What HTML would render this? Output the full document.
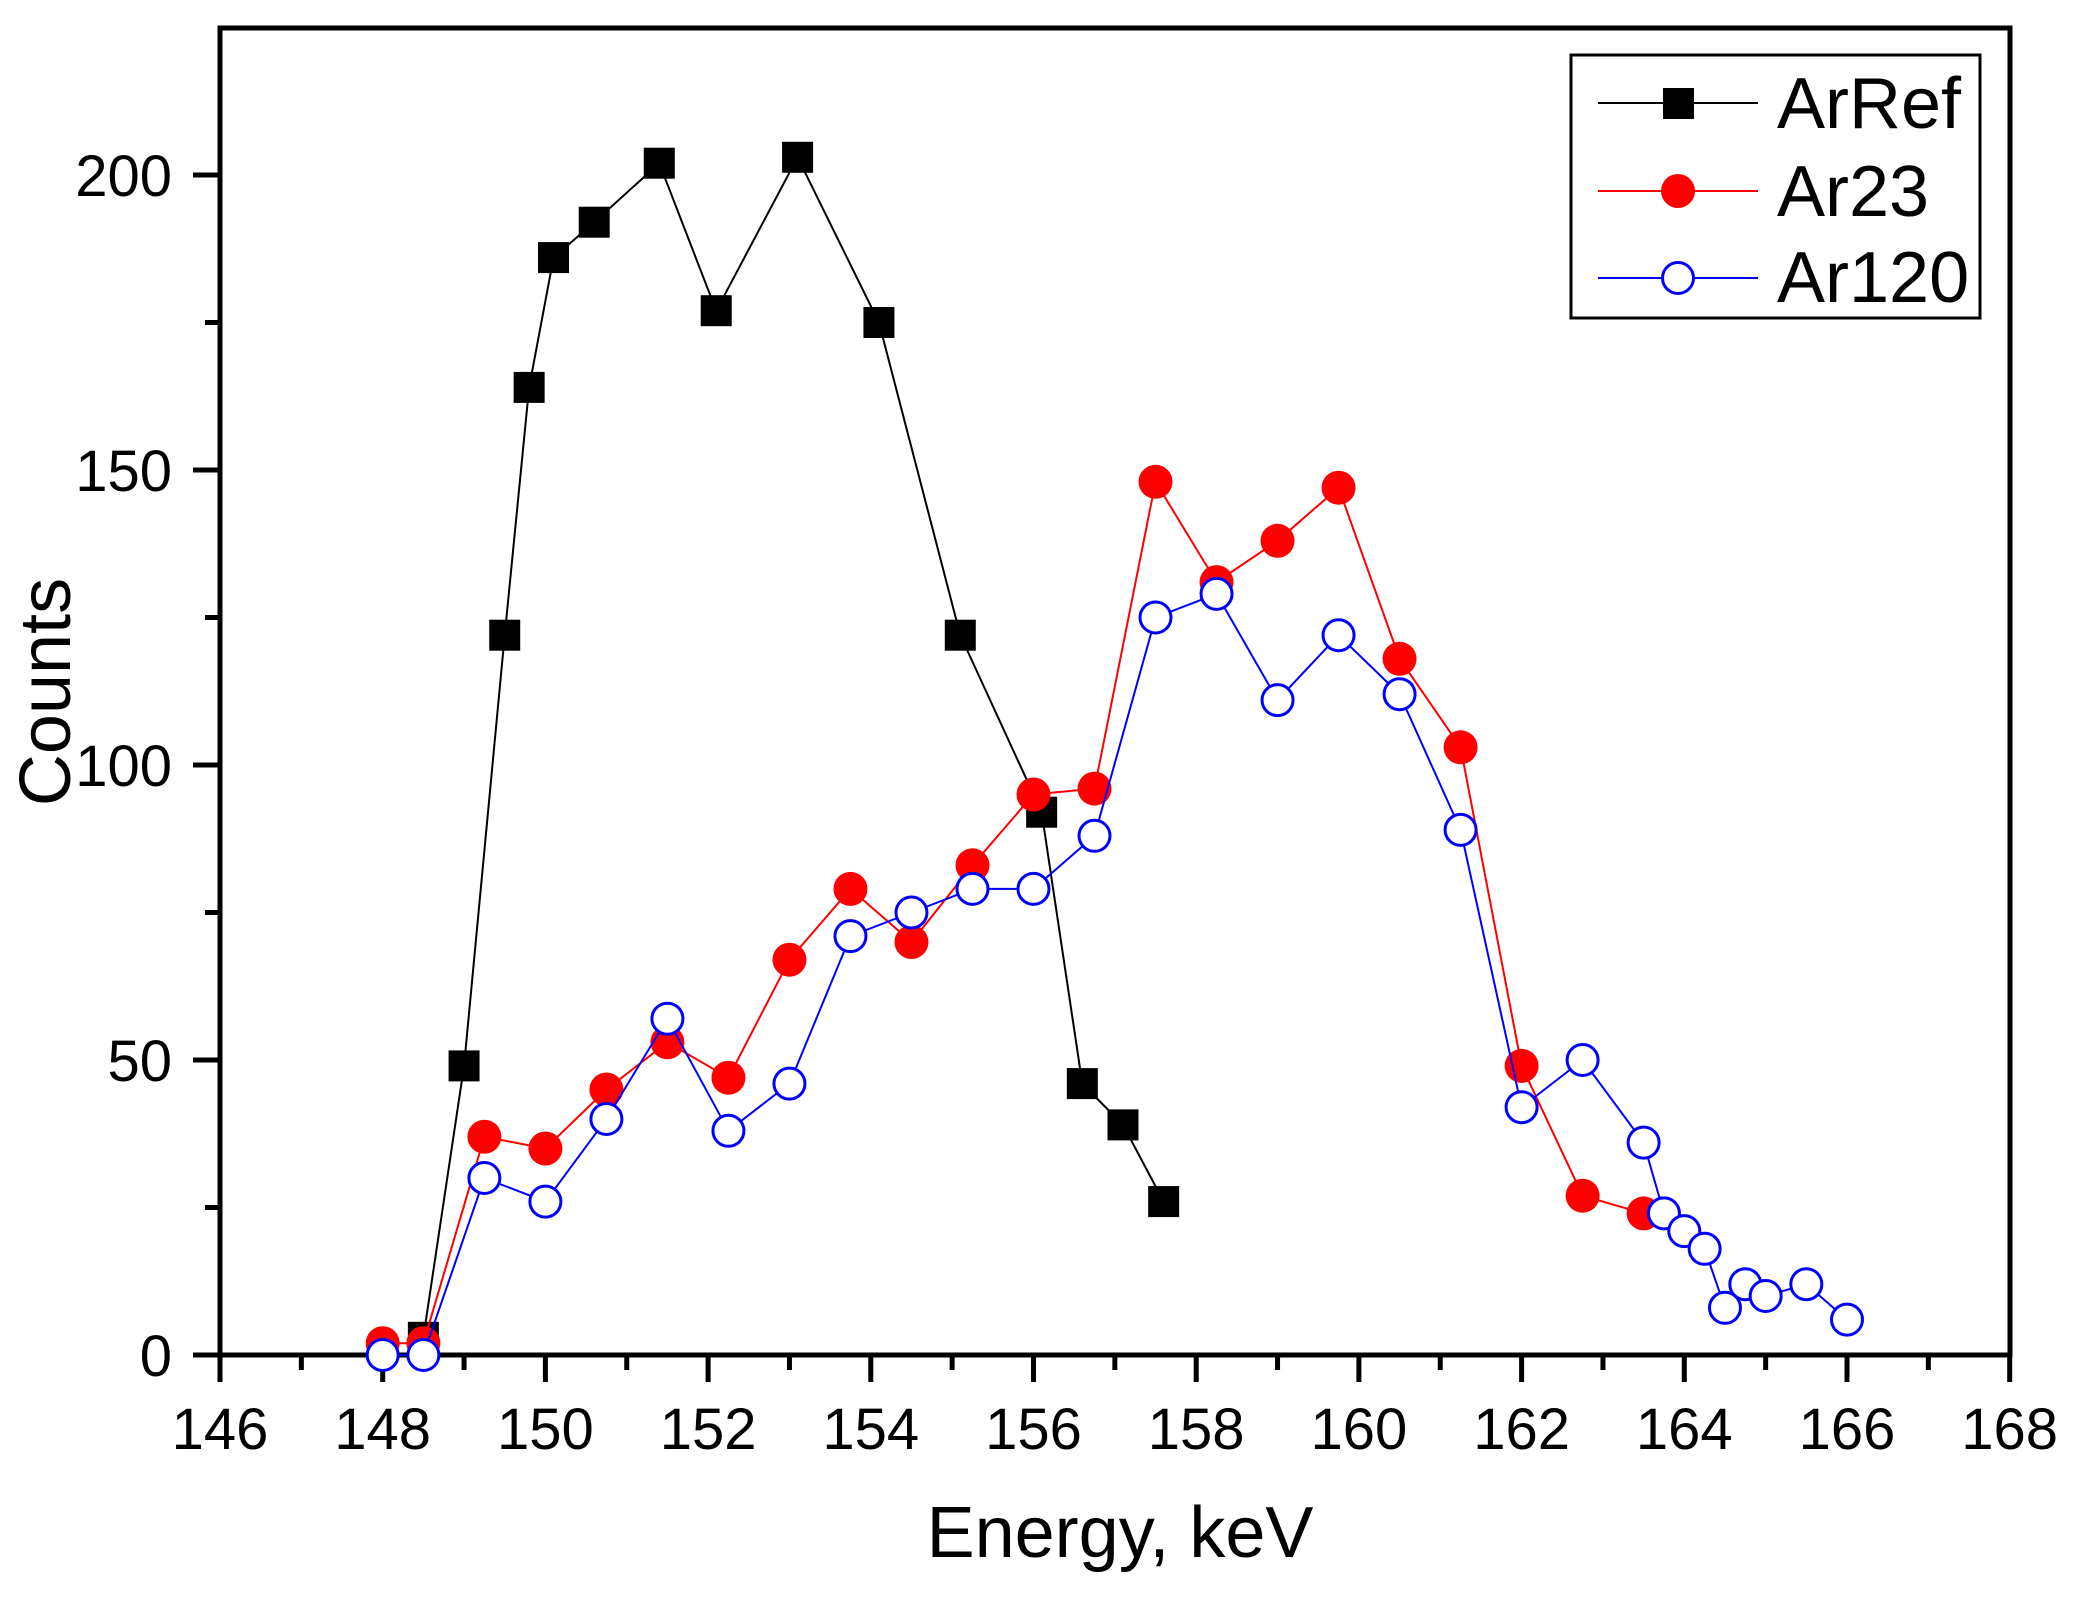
<!DOCTYPE html>
<html><head><meta charset="utf-8"><style>
html,body{margin:0;padding:0;background:#fff}
svg{display:block}
text{font-family:"Liberation Sans",Arial,sans-serif}
</style></head><body>
<svg id="s" width="2077" height="1597" xmlns="http://www.w3.org/2000/svg">
<g id="g"></g>
<text x="1120" y="1557" font-size="72" text-anchor="middle">Energy, keV</text>
<text transform="translate(70,692) rotate(-90)" font-size="72" text-anchor="middle">Counts</text>
<rect x="1571" y="55" width="409" height="263" fill="#fff" stroke="#000" stroke-width="3"/>
<line x1="1598" y1="103" x2="1758" y2="103" stroke="#000" stroke-width="2"/>
<rect x="1663" y="88" width="31" height="31" fill="#000"/>
<line x1="1598" y1="191" x2="1758" y2="191" stroke="#f00" stroke-width="2"/>
<circle cx="1678" cy="191" r="17" fill="#f00"/>
<line x1="1598" y1="278" x2="1758" y2="278" stroke="#00f" stroke-width="2"/>
<circle cx="1678" cy="278" r="15.5" fill="#fff" stroke="#00f" stroke-width="3"/>
<text x="1777" y="128" font-size="72">ArRef</text>
<text x="1777" y="216" font-size="72">Ar23</text>
<text x="1777" y="302" font-size="72">Ar120</text>
</svg>
<script>
var X=function(e){return 220+(e-146)*81.35},Y=function(c){return 1355-c*5.9};
var h='';
var L=220,R=2010,T=28,B=1355;
for(var e=146;e<=168;e+=1){var x=X(e),maj=(e%2==0);
 h+='<line x1="'+x+'" y1="'+B+'" x2="'+x+'" y2="'+(B+(maj?27:15))+'" stroke="#000" stroke-width="5"/>';
 if(maj)h+='<text x="'+x+'" y="1449" font-size="58" text-anchor="middle">'+e+'</text>';}
for(var c=0;c<=200;c+=25){var y=Y(c),maj=(c%50==0);
 h+='<line x1="'+L+'" y1="'+y+'" x2="'+(L-(maj?27:15))+'" y2="'+y+'" stroke="#000" stroke-width="5"/>';
 if(maj)h+='<text x="172" y="'+(y+21)+'" font-size="58" text-anchor="end">'+c+'</text>';}
h+='<rect x="'+L+'" y="'+T+'" width="'+(R-L)+'" height="'+(B-T)+'" fill="none" stroke="#000" stroke-width="5"/>';
var ref=[[148.5,3],[149,49],[149.5,122],[149.8,164],[150.1,186],[150.6,192],[151.4,202],[152.1,177],[153.1,203],[154.1,175],[155.1,122],[156.1,92],[156.6,46],[157.1,39],[157.6,26]];
var a23=[[148,2],[148.5,2],[149.25,37],[150,35],[150.75,45],[151.5,53],[152.25,47],[153,67],[153.75,79],[154.5,70],[155.25,83],[156,95],[156.75,96],[157.5,148],[158.25,131],[159,138],[159.75,147],[160.5,118],[161.25,103],[162,49],[162.75,27],[163.5,24]];
var a120=[[148,0],[148.5,0],[149.25,30],[150,26],[150.75,40],[151.5,57],[152.25,38],[153,46],[153.75,71],[154.5,75],[155.25,79],[156,79],[156.75,88],[157.5,125],[158.25,129],[159,111],[159.75,122],[160.5,112],[161.25,89],[162,42],[162.75,50],[163.5,36],[163.75,24],[164,21],[164.25,18],[164.5,8],[164.75,12],[165,10],[165.5,12],[166,6]];
function pl(d,col){return '<polyline fill="none" stroke="'+col+'" stroke-width="2" points="'+d.map(function(p){return X(p[0])+','+Y(p[1])}).join(' ')+'"/>';}
h+=pl(ref,'#000');
ref.forEach(function(p){h+='<rect x="'+(X(p[0])-15.5)+'" y="'+(Y(p[1])-15.5)+'" width="31" height="31" fill="#000"/>';});
h+=pl(a23,'#f00');
a23.forEach(function(p){h+='<circle cx="'+X(p[0])+'" cy="'+Y(p[1])+'" r="17" fill="#f00"/>';});
h+=pl(a120,'#00f');
a120.forEach(function(p){h+='<circle cx="'+X(p[0])+'" cy="'+Y(p[1])+'" r="15.5" fill="#fff" stroke="#00f" stroke-width="3"/>';});
document.getElementById('g').innerHTML=h;
</script>
</body></html>
